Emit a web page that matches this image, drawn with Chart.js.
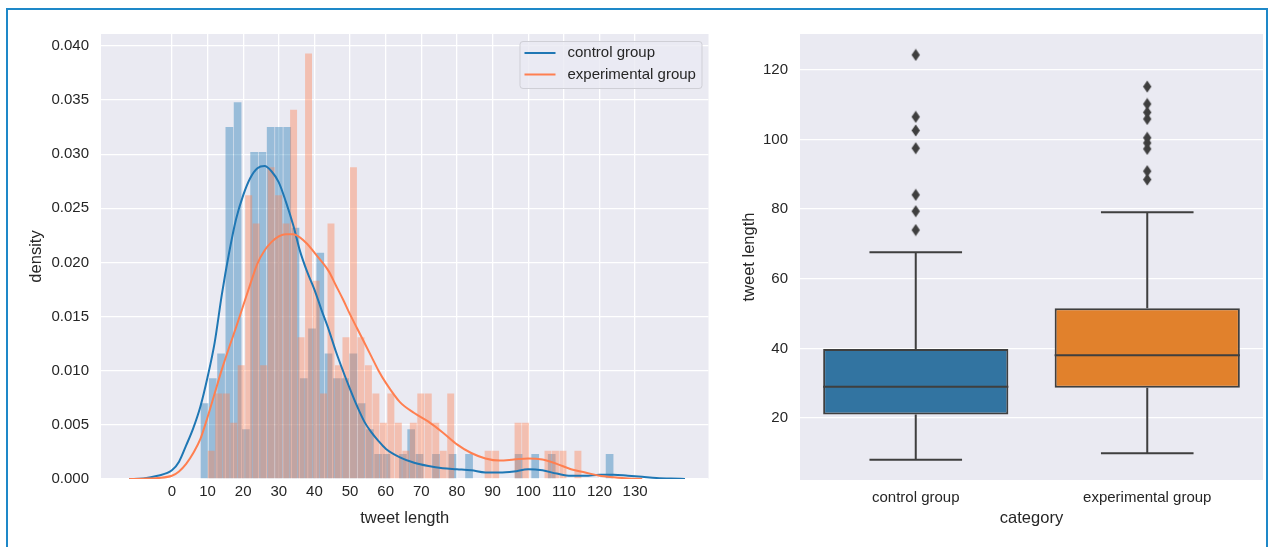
<!DOCTYPE html>
<html>
<head>
<meta charset="utf-8">
<script src="https://cdn.jsdelivr.net/npm/chart.js@4.4.1/dist/chart.umd.min.js"></script>
<style>
  html, body { margin: 0; padding: 0; background: #fff; }
  body { width: 1273px; height: 547px; position: relative; overflow: hidden; }
  #frame { position: absolute; left: 6px; top: 8px; width: 1262px; height: 600px; border: 2px solid #1e88c8; box-sizing: border-box; }
  #histChart { position: absolute; left: 0; top: 0; width: 730px; height: 547px; }
  #boxChart { position: absolute; left: 730px; top: 0; width: 543px; height: 547px; }
</style>
</head>
<body>
<div id="frame"></div>
<canvas id="histChart" width="730" height="547"></canvas>
<canvas id="boxChart" width="543" height="547"></canvas>
<script>
// ---- histogram data (density per bin, 50 bins each) ----
var controlBinStart = 8, controlBinWidth = 2.32;
var experimentalBinStart = 10, experimentalBinWidth = 2.1;

var controlDensity = [
  0.0070, 0.0093, 0.0116, 0.0325, 0.0348, 0.0046, 0.0302, 0.0302, 0.0325, 0.0325,
  0.0325, 0.0232, 0.0093, 0.0139, 0.0209, 0.0116, 0.0093, 0.0093, 0.0116, 0.0070,
  0.0046, 0.0023, 0.0023, 0.0000, 0.0023, 0.0046, 0.0023, 0.0000, 0.0023, 0.0000,
  0.0023, 0.0000, 0.0023, 0.0000, 0.0000, 0.0000, 0.0000, 0.0000, 0.0023, 0.0000,
  0.0023, 0.0000, 0.0023, 0.0000, 0.0000, 0.0000, 0.0000, 0.0000, 0.0000, 0.0023
];
var experimentalDensity = [
  0.0026, 0.0079, 0.0079, 0.0052, 0.0105, 0.0262, 0.0236, 0.0105, 0.0288, 0.0262,
  0.0236, 0.0341, 0.0131, 0.0393, 0.0183, 0.0079, 0.0236, 0.0105, 0.0131, 0.0288,
  0.0131, 0.0105, 0.0079, 0.0052, 0.0079, 0.0052, 0.0026, 0.0052, 0.0079, 0.0079,
  0.0052, 0.0026, 0.0079, 0.0000, 0.0000, 0.0000, 0.0000, 0.0026, 0.0026, 0.0000,
  0.0000, 0.0052, 0.0052, 0.0000, 0.0000, 0.0026, 0.0026, 0.0026, 0.0000, 0.0026
];

// ---- KDE curves ----
var kdeGrid = [-12, -8, -4, 0, 2, 4, 6, 8, 10, 12, 14, 16, 18, 20, 22, 24, 26, 28, 30, 32,
  34, 36, 38, 40, 42, 44, 46, 48, 50, 52, 54, 56, 58, 60, 64, 68, 72, 76, 80, 84,
  88, 92, 96, 100, 104, 108, 112, 116, 120, 124, 128, 132, 136, 140, 144];
var kdeControl = [0.0000, 0.00005, 0.0003, 0.0008, 0.0016, 0.0031, 0.0047, 0.0067, 0.0094, 0.0126,
  0.0170, 0.0208, 0.0240, 0.0262, 0.0278, 0.0287, 0.0289, 0.0284, 0.0274, 0.0256,
  0.0235, 0.0210, 0.0191, 0.0175, 0.0156, 0.0138, 0.0118, 0.0100, 0.0083, 0.0067,
  0.0053, 0.0043, 0.0035, 0.0028, 0.0020, 0.0015, 0.0012, 0.0010, 0.0009, 0.0008,
  0.0006, 0.0006, 0.0007, 0.0009, 0.0008, 0.0005, 0.0003, 0.0003, 0.0004, 0.0004,
  0.0003, 0.0002, 0.0001, 0.00004, 0.0000];
var kdeExperimental = [0.0000, 0.00003, 0.0001, 0.0003, 0.0007, 0.0014, 0.0024, 0.0037, 0.0057, 0.0079,
  0.0101, 0.0121, 0.0140, 0.0160, 0.0180, 0.0199, 0.0211, 0.0219, 0.0224, 0.0226,
  0.0226, 0.0223, 0.0217, 0.0209, 0.0201, 0.0192, 0.0179, 0.0166, 0.0152, 0.0139,
  0.0126, 0.0113, 0.0100, 0.0089, 0.0071, 0.0061, 0.0053, 0.0043, 0.0032, 0.0024,
  0.0019, 0.0017, 0.0018, 0.0019, 0.0018, 0.0014, 0.0009, 0.0006, 0.0003, 0.00016,
  0.00005, 0.0000, null, null, null];

var lengthTicks = [0, 10, 20, 30, 40, 50, 60, 70, 80, 90, 100, 110, 120, 130];
var densityTicks = [0, 0.005, 0.010, 0.015, 0.020, 0.025, 0.030, 0.035, 0.040];

// ---- box plot data ----
var groups = ['control group', 'experimental group'];
var whiskerLow = [8.0, 9.9];
var quartile1 = [21.0, 28.7];
var medians = [29.0, 38.0];
var quartile3 = [39.8, 51.5];
var whiskerHigh = [67.6, 79.1];
var controlOutliers = [74.0, 79.4, 84.1, 97.5, 102.6, 106.5, 124.3];
var experimentalOutliers = [88.5, 90.9, 97.3, 99.0, 100.5, 105.9, 107.8, 110.2, 115.2];
var boxLengthTicks = [20, 40, 60, 80, 100, 120];

Chart.defaults.font.family = "'Liberation Sans', Arial, sans-serif";
Chart.defaults.color = '#262626';

var tickFont = { size: 15 };
var titleFont = { size: 16.5 };

var plotBackground = {
    id: 'plotBackground',
    beforeDraw: function (chart) {
        var a = chart.chartArea;
        chart.ctx.save();
        chart.ctx.fillStyle = '#eaeaf2';
        chart.ctx.fillRect(a.left, a.top, a.right - a.left, a.bottom - a.top);
        chart.ctx.restore();
    }
};

// legend drawn inside the plot, top right, like the seaborn one
var lineLegend = {
    id: 'lineLegend',
    afterDraw: function (chart) {
        var ctx = chart.ctx, a = chart.chartArea;
        var w = 182, h = 47;
        var x = a.right - 7 - w, y = a.top + 7;
        ctx.save();
        ctx.beginPath();
        ctx.roundRect(x + 0.5, y + 0.5, w, h, 3);
        ctx.fillStyle = 'rgba(234,234,242,0.8)';
        ctx.fill();
        ctx.strokeStyle = '#cfcfd6';
        ctx.lineWidth = 1;
        ctx.stroke();
        var lines = chart.data.datasets.filter(function (d) { return d.type === 'line'; });
        ctx.font = "15px 'Liberation Sans', Arial, sans-serif";
        ctx.textBaseline = 'middle';
        lines.forEach(function (d, i) {
            var ly = y + 12 + i * 21.5;
            ctx.strokeStyle = d.borderColor;
            ctx.lineWidth = 2;
            ctx.beginPath();
            ctx.moveTo(x + 5, ly);
            ctx.lineTo(x + 36, ly);
            ctx.stroke();
            ctx.fillStyle = '#262626';
            ctx.fillText(d.label, x + 48, ly);
        });
        ctx.restore();
    }
};

function toPoints(xs, ys) {
    return xs.map(function (x, i) { return { x: x, y: ys[i] }; });
}
function binPoints(start, width, values) {
    return values.map(function (v, i) { return { x: start + width * (i + 0.5), y: v }; });
}

// bars are drawn first, both KDE lines on top (higher order = drawn earlier)
var histCtx = document.getElementById('histChart').getContext('2d');
var histChart = new Chart(histCtx, {
    type: 'bar',
    data: {
        datasets: [{
            type: 'bar',
            label: 'control group',
            xAxisID: 'x',
            data: binPoints(controlBinStart, controlBinWidth, controlDensity),
            backgroundColor: 'rgba(31,119,180,0.4)',
            borderWidth: 0,
            grouped: false,
            barPercentage: 0.93,
            categoryPercentage: 1,
            order: 4
        }, {
            type: 'line',
            label: 'control group',
            xAxisID: 'x',
            data: toPoints(kdeGrid, kdeControl),
            borderColor: '#1f77b4',
            borderWidth: 2,
            pointRadius: 0,
            cubicInterpolationMode: 'monotone',
            order: 2
        }, {
            type: 'bar',
            label: 'experimental group',
            xAxisID: 'x2',
            data: binPoints(experimentalBinStart, experimentalBinWidth, experimentalDensity),
            backgroundColor: 'rgba(255,127,80,0.4)',
            borderWidth: 0,
            grouped: false,
            barPercentage: 0.93,
            categoryPercentage: 1,
            order: 3
        }, {
            type: 'line',
            label: 'experimental group',
            xAxisID: 'x',
            data: toPoints(kdeGrid, kdeExperimental),
            borderColor: '#ff7f50',
            borderWidth: 2,
            pointRadius: 0,
            spanGaps: false,
            cubicInterpolationMode: 'monotone',
            order: 1
        }]
    },
    options: {
        responsive: false,
        animation: false,
        layout: { padding: { left: 23, top: 34, right: 21.5, bottom: 15 } },
        plugins: { legend: { display: false }, tooltip: { enabled: false } },
        scales: {
            x: {
                type: 'linear',
                offset: false,
                min: -19.9,
                max: 150.6,
                afterBuildTicks: function (s) { s.ticks = lengthTicks.map(function (v) { return { value: v }; }); },
                afterFit: function (s) { s.height = 53; s.paddingLeft = 0; s.paddingRight = 0; },
                ticks: { font: tickFont, padding: 4, autoSkip: false, maxRotation: 0, callback: function (v) { return String(v); } },
                grid: { color: '#ffffff', lineWidth: 1.3, drawTicks: false, offset: false },
                border: { display: false },
                title: { display: true, text: 'tweet length', font: titleFont, padding: { top: 0, bottom: 4 } }
            },
            x2: {
                type: 'linear',
                display: false,
                offset: false,
                min: -19.9,
                max: 150.6,
                ticks: { stepSize: 100 }
            },
            y: {
                min: 0,
                max: 0.0411,
                afterBuildTicks: function (s) { s.ticks = densityTicks.map(function (v) { return { value: v }; }); },
                afterFit: function (s) { s.width = 78; },
                ticks: { font: tickFont, padding: 12, callback: function (v) { return v.toFixed(3); } },
                grid: { color: '#ffffff', lineWidth: 1.3, drawTicks: false },
                border: { display: false },
                title: { display: true, text: 'density', font: titleFont }
            }
        }
    },
    plugins: [plotBackground, lineLegend]
});

// whiskers, caps and medians as one broken line
var CAP_HALF = 0.2, BOX_HALF = 0.4;
function boxLines() {
    var pts = [];
    groups.forEach(function (g, i) {
        var segs = [
            [i, quartile1[i], i, whiskerLow[i]],
            [i, quartile3[i], i, whiskerHigh[i]],
            [i - CAP_HALF, whiskerLow[i], i + CAP_HALF, whiskerLow[i]],
            [i - CAP_HALF, whiskerHigh[i], i + CAP_HALF, whiskerHigh[i]],
            [i - BOX_HALF, medians[i], i + BOX_HALF, medians[i]]
        ];
        segs.forEach(function (s) {
            pts.push({ x: s[0], y: s[1] }, { x: s[2], y: s[3] }, { x: i, y: null });
        });
    });
    return pts;
}
var outlierPoints = controlOutliers.map(function (v) { return { x: 0, y: v }; })
    .concat(experimentalOutliers.map(function (v) { return { x: 1, y: v }; }));

// thin diamond marker like matplotlib's 'd'
var diamond = document.createElement('canvas');
diamond.width = 10;
diamond.height = 13;
(function () {
    var c = diamond.getContext('2d');
    c.fillStyle = '#3f3f3f';
    c.beginPath();
    c.moveTo(5, 0.5);
    c.lineTo(9.2, 6.5);
    c.lineTo(5, 12.5);
    c.lineTo(0.8, 6.5);
    c.closePath();
    c.fill();
})();

var boxCtx = document.getElementById('boxChart').getContext('2d');
var boxChart = new Chart(boxCtx, {
    type: 'bar',
    data: {
        datasets: [{
            type: 'bar',
            label: 'box',
            data: groups.map(function (g, i) { return { x: i, y: [quartile1[i], quartile3[i]] }; }),
            backgroundColor: ['#3274a1', '#e1812c'],
            borderColor: '#3f3f3f',
            borderWidth: 2,
            borderSkipped: false,
            grouped: false,
            barPercentage: 1,
            categoryPercentage: 0.8,
            order: 3
        }, {
            type: 'line',
            label: 'whiskers',
            data: boxLines(),
            borderColor: '#3f3f3f',
            borderWidth: 2,
            pointRadius: 0,
            spanGaps: false,
            tension: 0,
            order: 2
        }, {
            type: 'scatter',
            label: 'outliers',
            data: outlierPoints,
            pointStyle: diamond,
            pointRadius: 5,
            order: 1
        }]
    },
    options: {
        responsive: false,
        animation: false,
        layout: { padding: { left: 6, top: 34, right: 10, bottom: 15 } },
        plugins: { legend: { display: false }, tooltip: { enabled: false } },
        scales: {
            x: {
                type: 'linear',
                offset: false,
                min: -0.5,
                max: 1.5,
                afterBuildTicks: function (s) { s.ticks = groups.map(function (g, i) { return { value: i }; }); },
                afterFit: function (s) { s.height = 52; s.paddingLeft = 0; s.paddingRight = 0; },
                ticks: { font: tickFont, padding: 9, autoSkip: false, maxRotation: 0, callback: function (v) { return groups[v]; } },
                grid: { display: false, drawTicks: false, offset: false },
                border: { display: false },
                title: { display: true, text: 'category', font: titleFont, padding: { top: 0, bottom: 4 } }
            },
            y: {
                min: 2.2,
                max: 130.3,
                afterBuildTicks: function (s) { s.ticks = boxLengthTicks.map(function (v) { return { value: v }; }); },
                afterFit: function (s) { s.width = 64; },
                ticks: { font: tickFont, padding: 12, callback: function (v) { return String(v); } },
                grid: { color: '#ffffff', lineWidth: 1.3, drawTicks: false },
                border: { display: false },
                title: { display: true, text: 'tweet length', font: titleFont }
            }
        }
    },
    plugins: [plotBackground]
});
</script>
</body>
</html>
